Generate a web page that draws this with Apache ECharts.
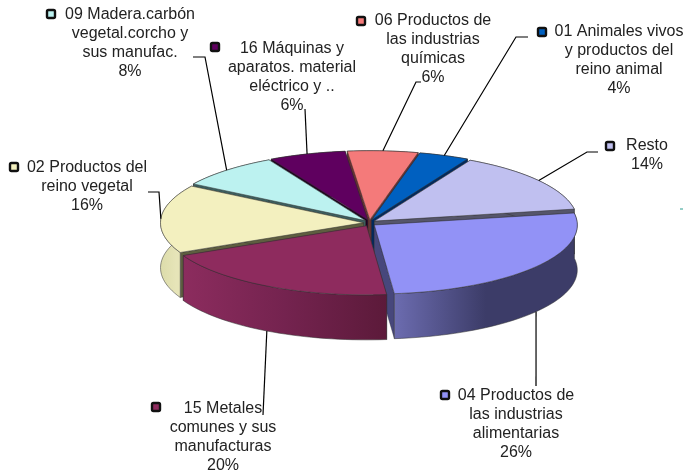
<!DOCTYPE html>
<html lang="es">

<head>
    <meta charset="UTF-8">
    <title>Exportaciones</title>
    <script src="https://cdn.jsdelivr.net/npm/echarts@6/dist/echarts.min.js"></script>
    <style>
        html, body { margin: 0; background: #fff; }
    </style>
</head>

<body>
    <div id="main" style="width: 683px;height:475px;"></div>
    <script>
        // clockwise from the Resto / 04 boundary
        let categories = [
            ['04 Productos de', 'las industrias', 'alimentarias'],
            ['15 Metales', 'comunes y sus', 'manufacturas'],
            ['02 Productos del', 'reino vegetal'],
            ['09 Madera.carbón', 'vegetal.corcho y', 'sus manufac.'],
            ['16 Máquinas y', 'aparatos. material', 'eléctrico y ..'],
            ['06 Productos de', 'las industrias', 'químicas'],
            ['01 Animales vivos', 'y productos del', 'reino animal'],
            ['Resto']
        ]
        // the labels only show them rounded
        let shares = [26.2, 19.5, 16, 8.2, 6.1, 5.6, 4, 14.4]

        // look of each slice, same order as above
        let topColors = ['#9292f6', '#8e2b5e', '#f3f0bf', '#bcf2f0', '#5f005f', '#f47a7a', '#0060c0', '#c0c0f0']
        let cutColors = ['#47477c', '#5a1a3a', '#5e5e40', '#3c5e5e', '#200020', '#6a3030', '#002a60', '#55556a']
        let wallColors = [
            ['#6c6cb0', '#3c3c68', '#3c3c68'],
            ['#8c2c5e', '#74234f', '#5c1a3a'],
            ['#dcdcaa', '#e6e4b8', '#e6e4b8'],
            ['#3c5e5e', '#3c5e5e', '#3c5e5e'],
            ['#200020', '#200020', '#200020'],
            ['#6a3030', '#6a3030', '#6a3030'],
            ['#002a60', '#002a60', '#002a60'],
            ['#55556a', '#55556a', '#55556a']
        ]
        // back to front
        let drawOrder = [5, 4, 6, 3, 7, 2, 0, 1]

        // label block: text centre, first line y, swatch position, leader elbow
        let labelX = [516, 223, 87, 130, 292, 433, 619, 647]
        let labelY = [396, 409, 168, 15, 49, 21, 32, 146]
        let swatchX = [445, 156, 14, 51, 215, 361, 542, 610]
        let swatchY = [395, 407, 167, 14, 47, 21, 32, 146]
        let leaders = [
            [[536, 386]],
            [[263, 415]],
            [[148, 192], [159, 192]],
            [[193, 57], [205, 57]],
            [[305, 109]],
            [[421, 82], [416, 82]],
            [[528, 37], [516, 37]],
            [[598, 152], [587, 152]]
        ]

        let cx = 369.5, cy = 223, rx = 203, ry = 69, depth = 45
        let startAngle = 10, explode = 6
        let total = shares.reduce((a, b) => a + b, 0)

        function pt(o, deg, down) {
            let r = deg * Math.PI / 180
            return [o[0] + rx * Math.cos(r), o[1] - ry * Math.sin(r) + (down || 0)]
        }

        function arc(o, a0, a1, down) {
            let pts = []
            let n = Math.ceil(Math.abs(a1 - a0) / 2)
            for (let i = 0; i <= n; i++) {
                pts.push(pt(o, a0 + (a1 - a0) * i / n, down))
            }
            return pts
        }

        function renderSlice(params, api) {
            let i = api.value(1)
            let before = 0
            for (let k = 0; k < i; k++) before += shares[k]
            let a0 = startAngle - before / total * 360
            let a1 = a0 - api.value(0) / total * 360
            let mid = (a0 + a1) / 2 * Math.PI / 180
            let tip = [cx + explode * Math.cos(mid), cy - explode * 0.55 * Math.sin(mid)]
            let z = drawOrder.indexOf(i) * 10
            let edge = 'rgba(50,50,50,0.75)'
            let upper = arc(tip, a0, a1, 0)
            let lower = arc(tip, a1, a0, depth)
            let cutA = [tip, upper[0], [upper[0][0], upper[0][1] + depth], [tip[0], tip[1] + depth]]
            let last = upper[upper.length - 1]
            let cutB = [tip, last, [last[0], last[1] + depth], [tip[0], tip[1] + depth]]
            let w = wallColors[i]
            return {
                type: 'group',
                children: [
                    {
                        type: 'polygon', z2: z,
                        shape: { points: cutA },
                        style: { fill: cutColors[i], stroke: edge, lineWidth: 0.5 }
                    },
                    {
                        type: 'polygon', z2: z,
                        shape: { points: cutB },
                        style: { fill: cutColors[i], stroke: edge, lineWidth: 0.5 }
                    },
                    {
                        type: 'polygon', z2: z + 1,
                        shape: { points: upper.concat(lower) },
                        style: {
                            fill: new echarts.graphic.LinearGradient(0, 0, 1, 0, [
                                { offset: 0, color: w[0] },
                                { offset: 0.5, color: w[1] },
                                { offset: 1, color: w[2] }
                            ]),
                            stroke: edge, lineWidth: 0.7
                        }
                    },
                    {
                        type: 'polygon', z2: z + 2,
                        shape: { points: [tip].concat(upper) },
                        style: { fill: topColors[i], stroke: edge, lineWidth: 0.7 }
                    }
                ]
            }
        }

        function renderLabel(params, api) {
            let i = api.value(1)
            let before = 0
            for (let k = 0; k < i; k++) before += shares[k]
            let mid = startAngle - (before + api.value(0) / 2) / total * 360
            let r = mid * Math.PI / 180
            let base = [cx + explode * Math.cos(r), cy - explode * 0.55 * Math.sin(r)]
            let anchor = pt(base, mid, Math.sin(r) < 0 ? depth : 0)
            let lines = categories[i].concat([Math.round(api.value(0)) + '%'])
            let kids = [
                {
                    type: 'polyline', z2: 200,
                    shape: { points: leaders[i].concat([anchor]) },
                    style: { fill: null, stroke: '#000', lineWidth: 1.2 }
                },
                {
                    type: 'rect', z2: 210,
                    shape: { x: swatchX[i] - 4, y: swatchY[i] - 4, width: 8, height: 8, r: 1.5 },
                    style: { fill: topColors[i], stroke: '#111', lineWidth: 2.4 }
                }
            ]
            lines.forEach((t, n) => {
                kids.push({
                    type: 'text', z2: 210,
                    style: {
                        text: t, x: labelX[i], y: labelY[i] + n * 18.7,
                        align: 'center', verticalAlign: 'middle',
                        font: '16px "Liberation Sans", Arial, sans-serif', fill: '#222'
                    }
                })
            })
            return { type: 'group', children: kids }
        }

        var chartDom = document.getElementById('main');
        var myChart = echarts.init(chartDom);
        var option;

        option = {
            animation: false,
            backgroundColor: '#fff',
            graphic: [
                {
                    type: 'line',
                    shape: { x1: 680, y1: 209, x2: 683, y2: 209 },
                    style: { stroke: '#2a9d8f', lineWidth: 1 }
                }
            ],
            series: [
                {
                    type: 'custom',
                    coordinateSystem: 'none',
                    silent: true,
                    renderItem: renderSlice,
                    data: shares.map((v, i) => [v, i])
                },
                {
                    type: 'custom',
                    coordinateSystem: 'none',
                    silent: true,
                    z: 5,
                    renderItem: renderLabel,
                    data: shares.map((v, i) => [v, i])
                }
            ]
        };

        option && myChart.setOption(option);
    </script>
</body>

</html>
